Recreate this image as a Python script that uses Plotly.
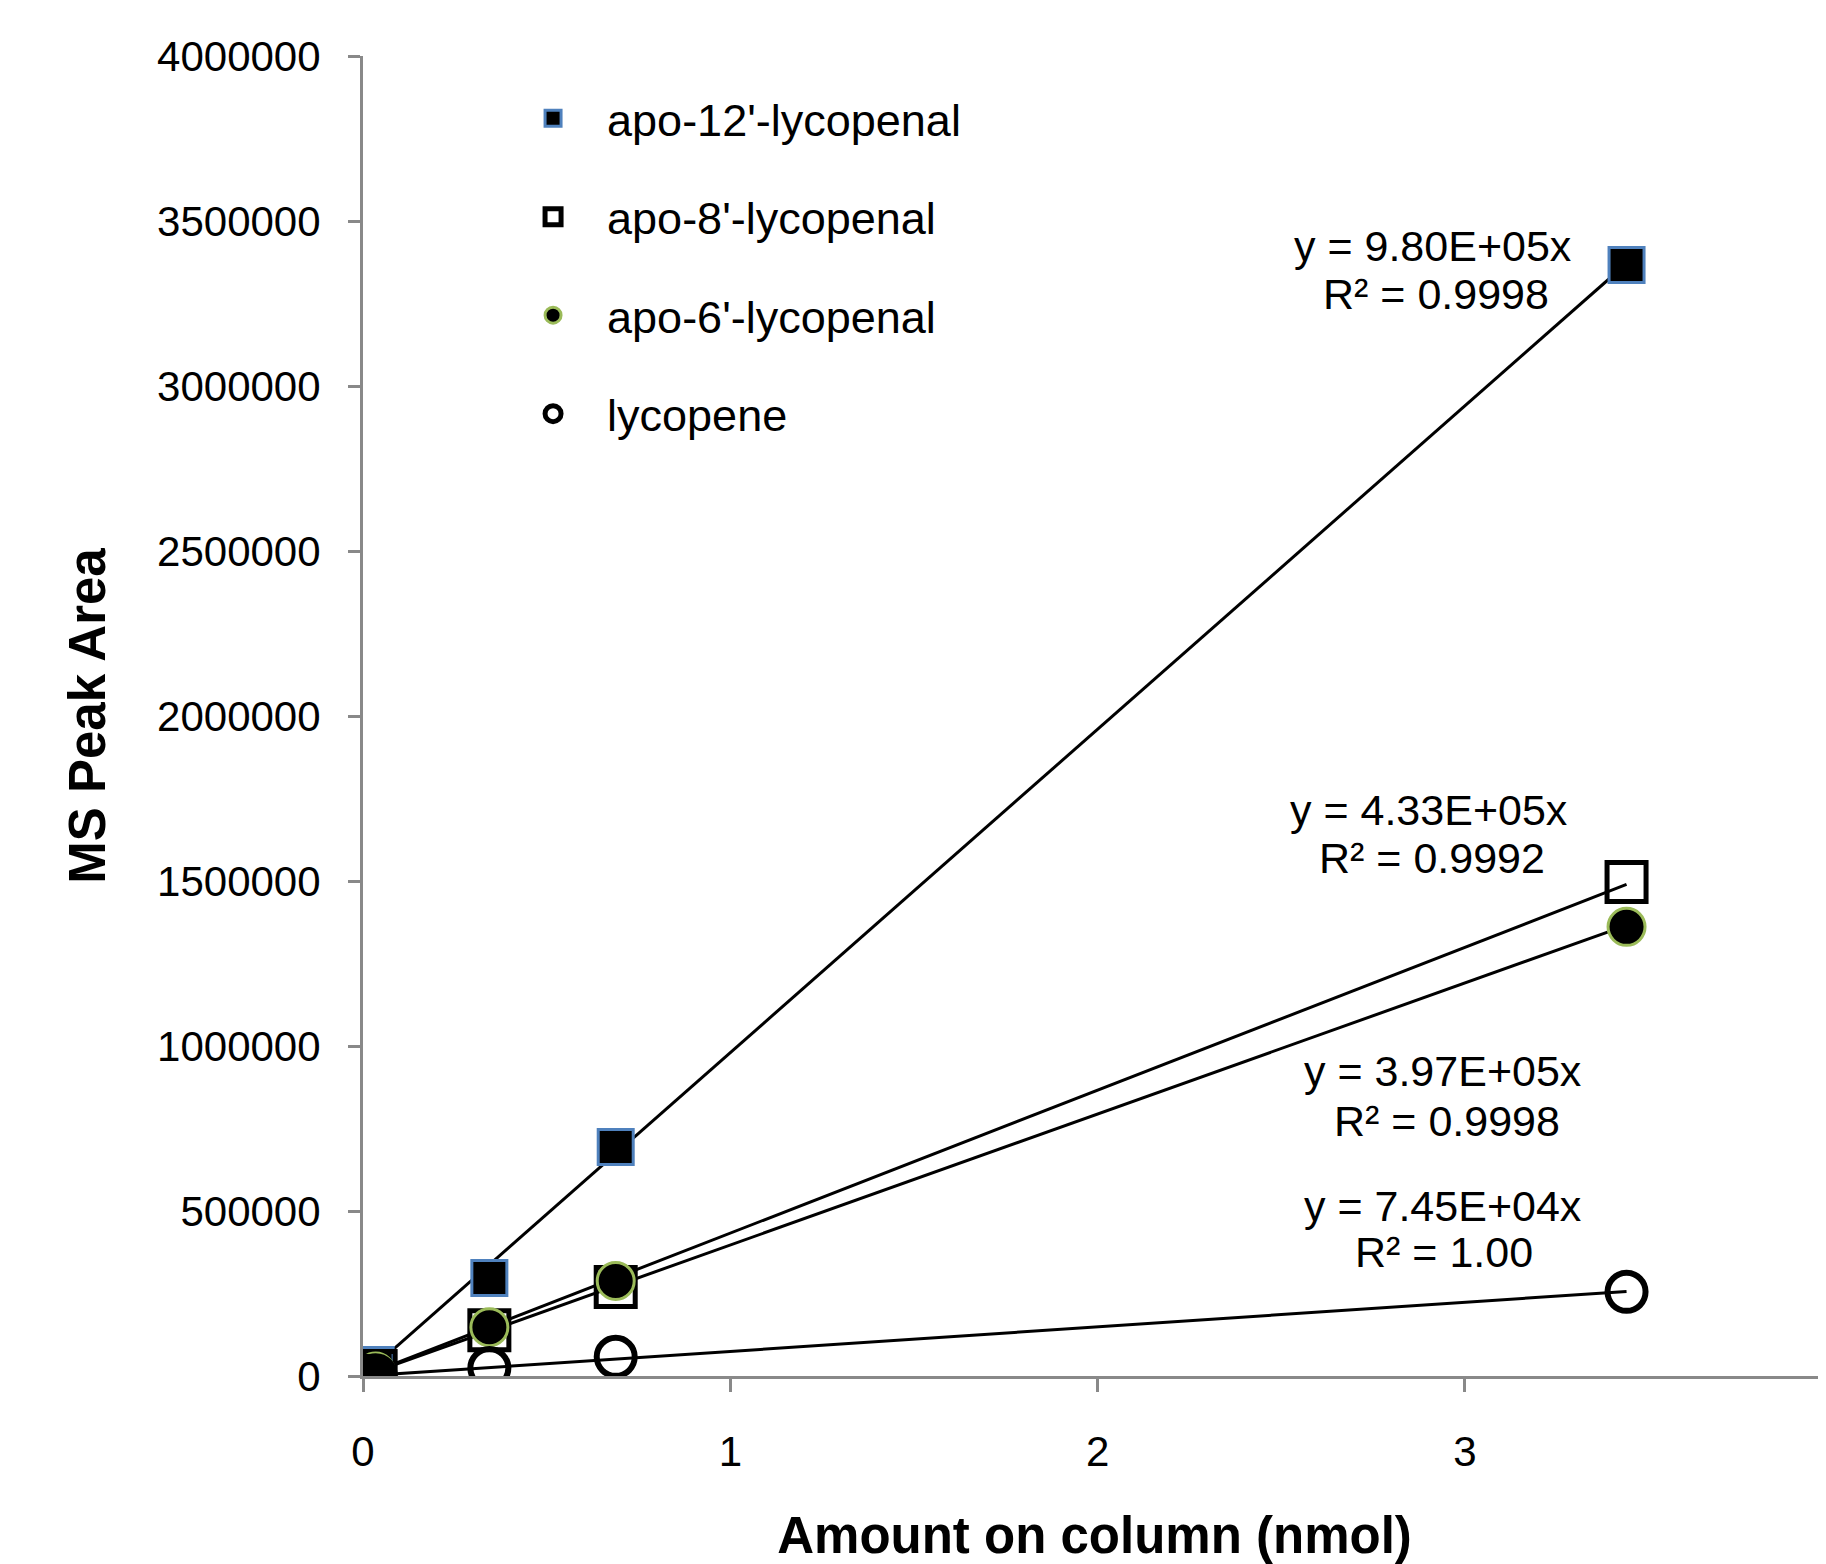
import plotly.graph_objects as go

# ---------------- data ----------------
amount_nmol = [0.00688, 0.0344, 0.344, 0.688, 3.44]

series_names = ["apo-12'-lycopenal", "apo-8'-lycopenal", "apo-6'-lycopenal", "lycopene"]
apo12_area = [6700, 33000, 297000, 694000, 3367000]
apo8_area = [3000, 15000, 139000, 270000, 1497000]
apo6_area = [2700, 13600, 148000, 288000, 1361000]
lycopene_area = [500, 2600, 24000, 58000, 255000]

slopes = [9.80e5, 4.33e5, 3.97e5, 7.45e4]
eq_lines = ["y = 9.80E+05x", "y = 4.33E+05x", "y = 3.97E+05x", "y = 7.45E+04x"]
r2_lines = ["R² = 0.9998", "R² = 0.9992", "R² = 0.9998", "R² = 1.00"]

x_tick_vals = [0, 1, 2, 3]
y_tick_step = 500000

# ---------------- styling ----------------
FONT = "Liberation Sans, Arial, Helvetica, sans-serif"
AXIS_GREY = "#898989"
BLUE = "#4F81BD"
GREEN = "#9BBB59"

marker_styles = [
    dict(symbol="square", size=35, color="black", line=dict(color=BLUE, width=3)),
    dict(symbol="square-open", size=39, color="black", line=dict(color="black", width=5)),
    dict(symbol="circle", size=37, color="black", line=dict(color=GREEN, width=3)),
    dict(symbol="circle-open", size=38, color="black", line=dict(color="black", width=6)),
]

# annotation anchor positions (data coords) for equation / R² lines
eq_pos = [(2.912, 3.424e6), (2.901, 1.715e6), (2.939, 0.924e6), (2.939, 0.515e6)]
r2_pos = [(2.920, 3.279e6), (2.909, 1.570e6), (2.950, 0.773e6), (2.942, 0.376e6)]

all_series = [apo12_area, apo8_area, apo6_area, lycopene_area]

fig = go.Figure()

# trendlines (forced through origin), spanning the data x-range
x_lo, x_hi = min(amount_nmol), max(amount_nmol)
for name, slope in zip(series_names, slopes):
    fig.add_trace(go.Scatter(
        x=[x_lo, x_hi], y=[slope * x_lo, slope * x_hi],
        mode="lines", line=dict(color="black", width=3),
        showlegend=False, hoverinfo="skip", name=name + " fit",
    ))

# data markers
for i, (name, ys, ms) in enumerate(zip(series_names, all_series, marker_styles)):
    fig.add_trace(go.Scatter(
        x=amount_nmol, y=ys, mode="markers", name=name,
        marker=ms, legendgroup=f"g{i}",
    ))

annotations = []
for (ex, ey), (rx, ry), et, rt in zip(eq_pos, r2_pos, eq_lines, r2_lines):
    annotations.append(dict(x=ex, y=ey, xref="x", yref="y", text=et, showarrow=False,
                            xanchor="center", yanchor="middle",
                            font=dict(family=FONT, size=43, color="black")))
    annotations.append(dict(x=rx, y=ry, xref="x", yref="y", text=rt, showarrow=False,
                            xanchor="center", yanchor="middle",
                            font=dict(family=FONT, size=43, color="black")))

fig.update_layout(
    width=1818, height=1556,
    margin=dict(l=355, r=0, t=48, b=188),
    paper_bgcolor="white", plot_bgcolor="white",
    font=dict(family=FONT, color="black"),
    annotations=annotations,
    legend=dict(x=0.093, y=0.980, xanchor="left", yanchor="top",
                font=dict(family=FONT, size=45, color="black"),
                itemwidth=98, tracegroupgap=37, bgcolor="rgba(0,0,0,0)"),
    xaxis=dict(
        range=[0, 3.983], tickvals=x_tick_vals, ticks="outside", ticklen=13,
        tickwidth=3, tickcolor=AXIS_GREY, showline=True, linecolor=AXIS_GREY,
        linewidth=3, showgrid=False, zeroline=False,
        tickfont=dict(family=FONT, size=42, color="black"),
        ticklabelstandoff=24,
        title=dict(text="Amount on column (nmol)", standoff=49,
                   font=dict(family=FONT, size=51, color="black", weight="bold")),
    ),
    yaxis=dict(
        range=[0, 4000000], dtick=y_tick_step, tick0=0, tickformat="d",
        ticks="outside", ticklen=12, tickwidth=3, tickcolor=AXIS_GREY,
        showline=True, linecolor=AXIS_GREY, linewidth=3, showgrid=False,
        zeroline=False,
        tickfont=dict(family=FONT, size=42, color="black"),
        ticklabelstandoff=19,
        title=dict(text="MS Peak Area", standoff=36,
                   font=dict(family=FONT, size=51, color="black", weight="bold")),
    ),
)

fig.write_html("out.html")
